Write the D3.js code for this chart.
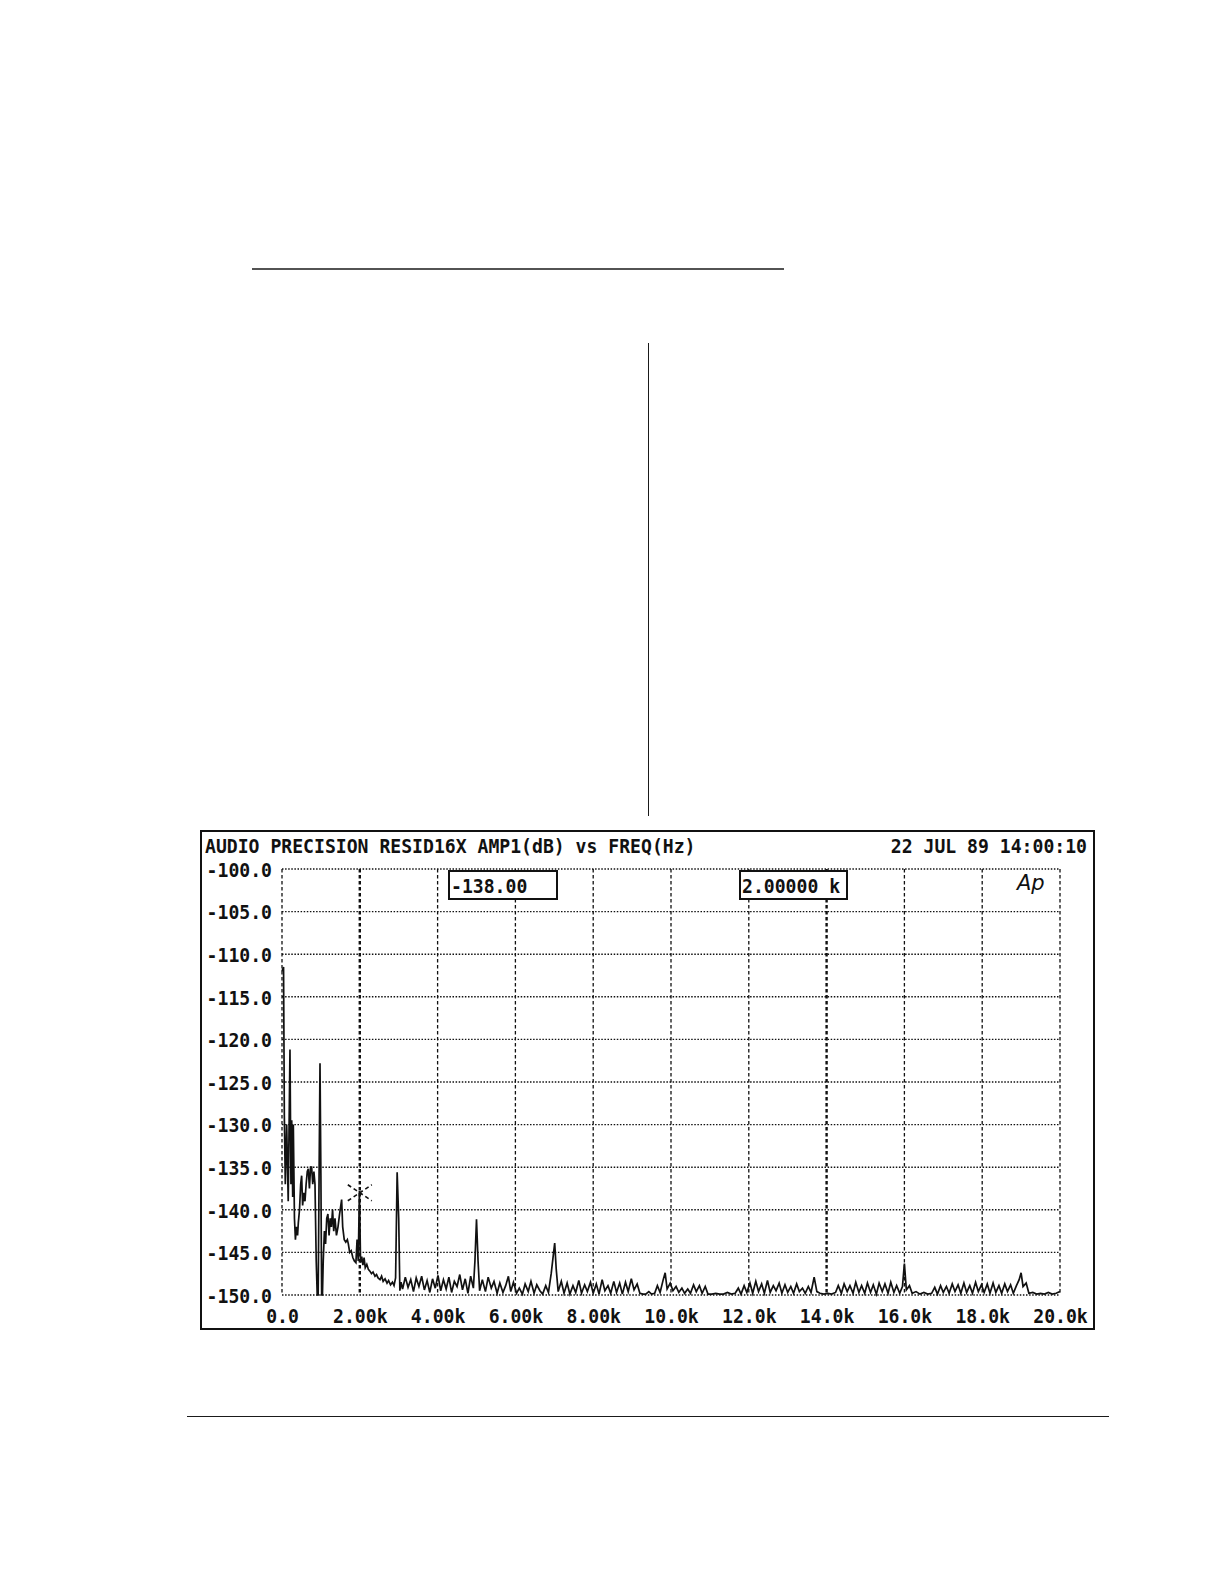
<!DOCTYPE html>
<html>
<head>
<meta charset="utf-8">
<script src="https://cdn.jsdelivr.net/npm/d3@7"></script>
<style>
  html, body { margin: 0; padding: 0; background: #fff; }
  svg { display: block; }
  .mono { font-family: "DejaVu Sans Mono", "Liberation Mono", monospace; font-weight: bold; font-size: 19.5px; fill: #111; }
</style>
</head>
<body>
<svg id="chart" width="1224" height="1584"></svg>
<script>
// ---------- data ----------
const titleText = "AUDIO PRECISION RESID16X AMP1(dB) vs FREQ(Hz)";
const dateText = "22 JUL 89 14:00:10";
const yTicks = [-100, -105, -110, -115, -120, -125, -130, -135, -140, -145, -150];
const yTickLabels = ["-100.0","-105.0","-110.0","-115.0","-120.0","-125.0","-130.0","-135.0","-140.0","-145.0","-150.0"];
const xTicks = [0, 2000, 4000, 6000, 8000, 10000, 12000, 14000, 16000, 18000, 20000];
const xTickLabels = ["0.0","2.00k","4.00k","6.00k","8.00k","10.0k","12.0k","14.0k","16.0k","18.0k","20.0k"];
const boldGridFreqs = [2000, 14000];
const cursorFreq = 2000;
const cursorLevel = -138.0;
const readoutLevel = "-138.00";
const readoutFreq = "2.00000 k";

// spectrum: [frequency Hz, level dB]
const spectrumLow = [
  [0,-112.0],[40,-111.5],[60,-129],[85,-137],[120,-130],[160,-139],[205,-121.2],[230,-137],
  [250,-129.5],[275,-138.5],[291,-130],[320,-141],[345,-143.5],[370,-142],[400,-143],[420,-141.5],
  [450,-140],[480,-137],[505,-136],[530,-139.5],[560,-138],[591,-139],[620,-137],[650,-135.5],
  [677,-135.2],[705,-137.5],[735,-135],[762,-135],[790,-137],[820,-135.5],[848,-137],[880,-146],
  [905,-150],[930,-150],[955,-135],[977,-122.8],[1000,-136],[1019,-150],[1040,-150],[1060,-146],
  [1090,-142.5],[1120,-144],[1150,-141],[1180,-140.5],[1210,-143],[1240,-141],[1270,-142],[1300,-140],
  [1330,-142.5],[1362,-141],[1400,-143],[1440,-142],[1480,-140.5],[1533,-138.8],[1560,-142],[1600,-143.5],
  [1640,-143.8],[1680,-143.5],[1705,-144],[1740,-145],[1780,-144.8],[1820,-145.6],[1860,-146],[1900,-146.2],
  [1930,-143.5],[1960,-146],[1990,-137.8],[2020,-146.2],[2050,-145.5],[2080,-146.5],[2110,-145.6],[2140,-146.8],
  [2180,-146.4],[2220,-147],[2260,-147.2],[2300,-147.5],[2340,-147.3],[2390,-147.8],[2430,-147.6],[2470,-148],
  [2520,-148.2],[2560,-147.8],[2600,-148.4],[2650,-148.1],[2700,-148.6],[2740,-148.3],[2790,-148.8],[2840,-148.5],
  [2880,-148.9],[2920,-148],[2960,-135.6],[3000,-141],[3030,-149.5],[3060,-148.5]
];
const spectrumMid = [
  [3100,-149.3],[3170,-147.9],[3240,-149.1],[3310,-148.2],[3380,-149.6],[3450,-148.0],[3520,-149.0],[3590,-147.8],
  [3660,-149.4],[3730,-148.3],[3800,-149.7],[3870,-148.1],[3940,-149.2],[4010,-147.7],[4080,-149.5],[4150,-148.2],
  [4220,-149.3],[4290,-147.9],[4360,-149.7],[4430,-148.4],[4500,-149.0],[4570,-147.6],[4640,-149.4],[4710,-148.1],
  [4780,-149.8],[4850,-147.8],[4920,-149.2],[4960,-146.0],[5000,-141.1],[5040,-146.0],[5080,-149.5],[5150,-148.2],
  [5230,-149.6],[5300,-147.9],[5380,-149.2],[5450,-148.4],[5530,-149.8],[5600,-148.6],[5680,-149.7],[5750,-148.9],
  [5820,-147.8],[5880,-149.6],[5950,-148.5],[6030,-149.8],[6100,-149.2],[6180,-149.9],[6250,-148.7],[6330,-149.6],
  [6400,-148.4],[6480,-149.8],[6550,-148.8],[6630,-149.5],[6700,-149.9],[6780,-148.9],[6850,-149.7],[6920,-147.5],
  [6970,-145.5],[7010,-143.9],[7050,-147.0],[7100,-149.6],[7180,-148.4],[7250,-149.8],[7330,-148.6],[7400,-149.9],
  [7480,-148.9],[7550,-149.7],[7630,-148.3],[7700,-149.8],[7780,-148.8],[7850,-149.6],[7930,-148.5],[8000,-149.8],
  [8080,-148.7],[8150,-149.9],[8230,-148.2],[8300,-149.5],[8380,-148.9],[8450,-149.8],[8530,-148.4],[8600,-149.7],
  [8680,-148.6],[8750,-149.9],[8830,-148.5],[8900,-149.6],[8980,-148.1],[9050,-149.4],[9130,-148.7],[9200,-149.8],
  [9280,-149.9],[9350,-149.9],[9430,-149.6],[9500,-149.9],[9580,-149.8],[9650,-148.9],[9720,-149.7],[9800,-148.2],
  [9850,-147.4],[9900,-149.3],[9980,-148.6],[10050,-149.5],[10130,-149.0],[10200,-149.7],[10280,-149.2],[10350,-149.8],
  [10430,-149.3],[10500,-149.8],[10580,-148.8],[10650,-149.6],[10730,-148.9],[10800,-149.8],[10880,-149.0],[10950,-149.9]
];
const spectrumHigh = [
  [11050,-149.9],[11150,-149.8],[11250,-149.9],[11350,-149.9],[11450,-149.7],[11550,-149.9],[11650,-149.8],[11730,-149.2],
  [11800,-149.9],[11880,-148.9],[11950,-149.7],[12030,-148.6],[12100,-149.8],[12180,-148.4],[12250,-149.6],[12330,-148.7],
  [12400,-149.8],[12480,-148.3],[12550,-149.7],[12630,-148.9],[12700,-149.5],[12780,-148.6],[12850,-149.8],[12930,-148.8],
  [13000,-149.7],[13080,-149.0],[13150,-149.8],[13230,-148.7],[13300,-149.6],[13380,-149.2],[13450,-149.8],[13530,-149.0],
  [13600,-149.7],[13680,-147.9],[13750,-149.6],[13830,-149.8],[13930,-149.9],[14030,-149.8],[14130,-149.9],[14230,-149.7],
  [14300,-148.9],[14380,-149.8],[14450,-148.7],[14530,-149.6],[14600,-148.9],[14680,-149.8],[14750,-148.5],[14830,-149.7],
  [14900,-148.9],[14980,-149.8],[15050,-148.6],[15130,-149.7],[15200,-148.8],[15280,-149.9],[15350,-148.6],[15430,-149.6],
  [15500,-148.7],[15580,-149.8],[15650,-148.5],[15730,-149.7],[15800,-148.9],[15880,-149.8],[15950,-149.0],[16000,-146.3],
  [16050,-149.4],[16130,-148.9],[16200,-149.8],[16300,-149.6],[16400,-149.9],[16500,-149.7],[16600,-149.9],[16700,-149.8],
  [16780,-149.1],[16850,-149.9],[16930,-148.9],[17000,-149.7],[17080,-149.0],[17150,-149.8],[17230,-148.7],[17300,-149.6],
  [17380,-148.8],[17450,-149.8],[17530,-148.6],[17600,-149.7],[17680,-148.9],[17750,-149.8],[17830,-148.5],[17900,-149.6],
  [17980,-148.8],[18050,-149.7],[18130,-148.7],[18200,-149.8],[18280,-148.6],[18350,-149.7],[18430,-148.9],[18500,-149.8],
  [18580,-148.7],[18650,-149.6],[18730,-148.8],[18800,-149.8],[18880,-148.9],[18950,-148.2],[19000,-147.4],[19050,-149.0],
  [19130,-148.6],[19200,-149.8],[19300,-149.7],[19400,-149.9],[19500,-149.8],[19600,-149.9],[19700,-149.7],[19800,-149.9],
  [19900,-149.8],[20000,-149.6]
];

// ---------- drawing ----------
const svg = d3.select("#chart");
const x = d3.scaleLinear().domain([0, 20000]).range([282, 1060]);
const y = d3.scaleLinear().domain([-150, -100]).range([1295, 869]);
const CHAR_W = 10.9;

function monoText(sel) {
  sel.attr("class", "mono")
     .attr("lengthAdjust", "spacingAndGlyphs")
     .attr("textLength", function () { return this.textContent.length * CHAR_W; });
  return sel;
}

// page decorations
svg.append("line").attr("x1", 252).attr("x2", 784).attr("y1", 269).attr("y2", 269)
  .attr("stroke", "#1a1a1a").attr("stroke-width", 1.6);
svg.append("line").attr("x1", 648.5).attr("x2", 648.5).attr("y1", 343).attr("y2", 816)
  .attr("stroke", "#1a1a1a").attr("stroke-width", 1);
svg.append("line").attr("x1", 187).attr("x2", 1109).attr("y1", 1416.5).attr("y2", 1416.5)
  .attr("stroke", "#1a1a1a").attr("stroke-width", 1);

// frame
svg.append("rect").attr("x", 201).attr("y", 831).attr("width", 893).attr("height", 498)
  .attr("fill", "none").attr("stroke", "#111").attr("stroke-width", 2);

// header texts
svg.append("text").attr("x", 205).attr("y", 853).text(titleText).call(monoText);
svg.append("text").attr("x", 1087).attr("y", 853)
  .attr("text-anchor", "end").text(dateText).call(monoText);

// grid: horizontal dotted
const g = svg.append("g");
g.selectAll(".hgrid").data(yTicks).join("line")
  .attr("x1", x(0)).attr("x2", x(20000))
  .attr("y1", d => y(d)).attr("y2", d => y(d))
  .attr("stroke", "#111").attr("stroke-width", 1.4).attr("stroke-dasharray", "1.5,1.6");
// grid: vertical dashed
g.selectAll(".vgrid").data(xTicks).join("line")
  .attr("x1", d => x(d)).attr("x2", d => x(d))
  .attr("y1", y(-100)).attr("y2", y(-150))
  .attr("stroke", "#111")
  .attr("stroke-width", d => boldGridFreqs.includes(d) ? 2.4 : 1.3)
  .attr("stroke-dasharray", "3.5,2.5");

// axis labels
const yAxis = d3.axisLeft(y).tickValues(yTicks).tickSize(0).tickPadding(0)
  .tickFormat((d, i) => yTickLabels[i]);
const ya = svg.append("g").attr("transform", "translate(272,0)").call(yAxis);
ya.select(".domain").remove();
ya.attr("font-size", null).attr("font-family", null);
ya.selectAll("text").attr("dy", "0.37em").call(monoText);

const xAxis = d3.axisBottom(x).tickValues(xTicks).tickSize(0).tickPadding(0)
  .tickFormat((d, i) => xTickLabels[i]);
const xa = svg.append("g").attr("transform", "translate(0,1323)").call(xAxis);
xa.select(".domain").remove();
xa.attr("font-size", null).attr("font-family", null);
xa.selectAll("text").attr("dy", "0").attr("y", 0).call(monoText);

// readout boxes
const boxes = [
  {x0: 449, x1: 557, t: readoutLevel},
  {x0: 740, x1: 847, t: readoutFreq}
];
boxes.forEach(b => {
  svg.append("rect").attr("x", b.x0).attr("y", 871).attr("width", b.x1 - b.x0).attr("height", 28)
    .attr("fill", "#fff").attr("stroke", "#111").attr("stroke-width", 2);
  svg.append("text").attr("x", b.x0 + 2).attr("y", 893).text(b.t).call(monoText);
});

// Ap logo
svg.append("text").attr("x", 1017).attr("y", 890)
  .attr("font-family", "DejaVu Sans").attr("font-style", "italic").attr("font-weight", 200)
  .attr("font-size", 21).attr("fill", "#111").text("Ap");

// spectrum trace
const spectrum = spectrumLow.concat(spectrumMid, spectrumHigh);
const line = d3.line().x(d => x(d[0])).y(d => y(Math.max(-150, d[1])));
svg.append("path").datum(spectrum).attr("d", line)
  .attr("fill", "none").attr("stroke", "#111").attr("stroke-width", 1.7).attr("stroke-linejoin", "miter");

// cursor marker
const cx = x(cursorFreq), cy = y(cursorLevel);
[[-12, -8, 12, 8], [-12, 8, 12, -8]].forEach(s => {
  svg.append("line").attr("x1", cx + s[0]).attr("y1", cy + s[1]).attr("x2", cx + s[2]).attr("y2", cy + s[3])
    .attr("stroke", "#111").attr("stroke-width", 1.6).attr("stroke-dasharray", "4,3");
});
</script>
</body>
</html>
